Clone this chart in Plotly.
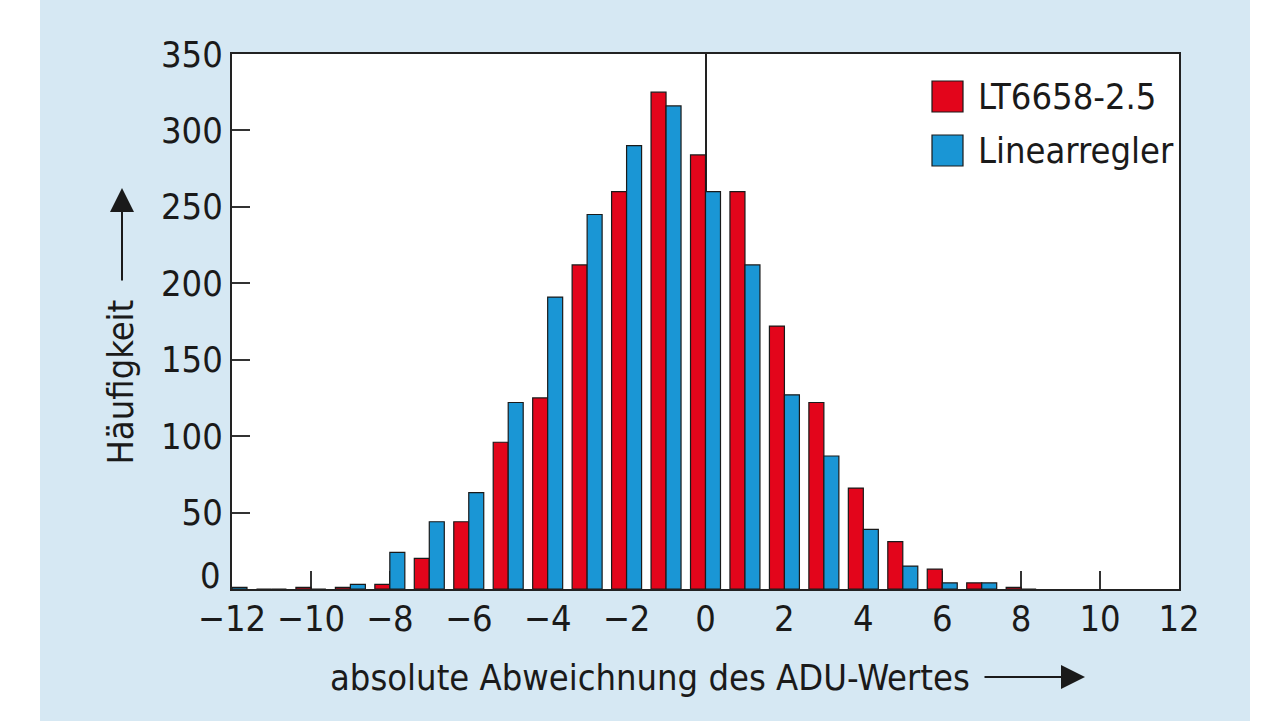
import plotly.graph_objects as go

# ---- data ----
deviation = [-12, -11, -10, -9, -8, -7, -6, -5, -4, -3, -2, -1, 0, 1, 2, 3, 4, 5, 6, 7, 8]
lt6658 = [0, 0, 1, 1, 3, 20, 44, 96, 125, 212, 260, 325, 284, 260, 172, 122, 66, 31, 13, 4, 1]
linear = [1, 0, 0, 3, 24, 44, 63, 122, 191, 245, 290, 316, 260, 212, 127, 87, 39, 15, 4, 4, 0]
series_names = ["LT6658-2.5", "Linearregler"]
x_ticks = [-12, -10, -8, -6, -4, -2, 0, 2, 4, 6, 8, 10, 12]
y_ticks = [0, 50, 100, 150, 200, 250, 300, 350]

RED = "#e3051b"
BLUE = "#1a96d5"
BG = "#d6e8f3"
INK = "#1a1a1a"
FONT = "Liberation Sans Narrow, DejaVu Sans Condensed, Arial Narrow, sans-serif"
FS = 36

W, H = 1280, 721
L, R, T, B = 232, 1179, 54, 589  # plot area in pixels
pw, ph = R - L, B - T


def px(x):
    return (x - L) / pw


def py(y):
    return (B - y) / ph


fig = go.Figure()
fig.add_trace(go.Bar(x=deviation, y=lt6658, name=series_names[0],
                     marker=dict(color=RED, line=dict(color=INK, width=1.2))))
fig.add_trace(go.Bar(x=deviation, y=linear, name=series_names[1],
                     marker=dict(color=BLUE, line=dict(color=INK, width=1.2))))

axis_common = dict(
    showline=True, linecolor="#222", linewidth=2, mirror=True,
    ticks="inside", ticklen=18, tickwidth=2, tickcolor="#333",
    showgrid=False, tickfont=dict(family=FONT, size=FS, color=INK),
    layer="below traces",
)

fig.update_xaxes(range=[-12, 12], tickvals=x_ticks, zeroline=True,
                 zerolinecolor="#222", zerolinewidth=1.5, ticklabelstandoff=-3,
                 **axis_common)
# the "0" label of the y axis sits raised above the x labels, as in the original
fig.update_yaxes(range=[0, 350], tickvals=y_ticks,
                 ticktext=[str(v) if v else "" for v in y_ticks],
                 zeroline=False, ticklabelstandoff=0, **axis_common)

shapes = [
    # white strips outside the blue panel
    dict(type="rect", xref="paper", yref="paper", x0=px(-20), x1=px(40),
         y0=py(-20), y1=py(740), fillcolor="white", line=dict(width=0), layer="below"),
    dict(type="rect", xref="paper", yref="paper", x0=px(1250), x1=px(1300),
         y0=py(-20), y1=py(740), fillcolor="white", line=dict(width=0), layer="below"),
    # legend swatches
    dict(type="rect", xref="paper", yref="paper", x0=px(932), x1=px(963),
         y0=py(112), y1=py(81), fillcolor=RED, line=dict(color=INK, width=1.2)),
    dict(type="rect", xref="paper", yref="paper", x0=px(932), x1=px(963),
         y0=py(166), y1=py(135), fillcolor=BLUE, line=dict(color=INK, width=1.2)),
]

annotations = [
    dict(xref="paper", yref="paper", x=px(976), y=py(97), text=series_names[0],
         showarrow=False, xanchor="left", yanchor="middle",
         font=dict(family=FONT, size=FS, color=INK)),
    dict(xref="paper", yref="paper", x=px(976), y=py(151), text=series_names[1],
         showarrow=False, xanchor="left", yanchor="middle",
         font=dict(family=FONT, size=FS, color=INK)),
    # raised zero label of the y axis
    dict(xref="paper", yref="paper", x=px(223), y=py(575), text=str(y_ticks[0]),
         showarrow=False, xanchor="right", yanchor="middle",
         font=dict(family=FONT, size=FS, color=INK)),
    # x-axis title and arrow
    dict(xref="paper", yref="paper", x=px(328), y=py(677), text="absolute Abweichnung des ADU-Wertes",
         showarrow=False, xanchor="left", yanchor="middle",
         font=dict(family=FONT, size=FS, color=INK)),
    dict(xref="paper", yref="paper", x=px(1085), y=py(677), text="", showarrow=True,
         ax=-102, ay=0, arrowhead=2, arrowsize=2.4, arrowwidth=2, arrowcolor=INK),
    # y-axis title and arrow
    dict(xref="paper", yref="paper", x=px(120), y=py(467), text="Häufigkeit",
         showarrow=False, textangle=-90, xanchor="center", yanchor="bottom",
         font=dict(family=FONT, size=FS, color=INK)),
    dict(xref="paper", yref="paper", x=px(122), y=py(188), text="", showarrow=True,
         ax=0, ay=94, arrowhead=2, arrowsize=2.4, arrowwidth=2, arrowcolor=INK),
]

fig.update_layout(
    width=W, height=H,
    margin=dict(l=L, r=W - R, t=T, b=H - B, pad=0),
    paper_bgcolor=BG, plot_bgcolor="white",
    barmode="group", bargap=0.24, bargroupgap=0,
    showlegend=False,
    shapes=shapes, annotations=annotations,
    font=dict(family=FONT, color=INK),
)

fig.write_html("out.html", config={"displayModeBar": False},
               post_script="document.body.style.margin='0';document.body.style.padding='0';")
